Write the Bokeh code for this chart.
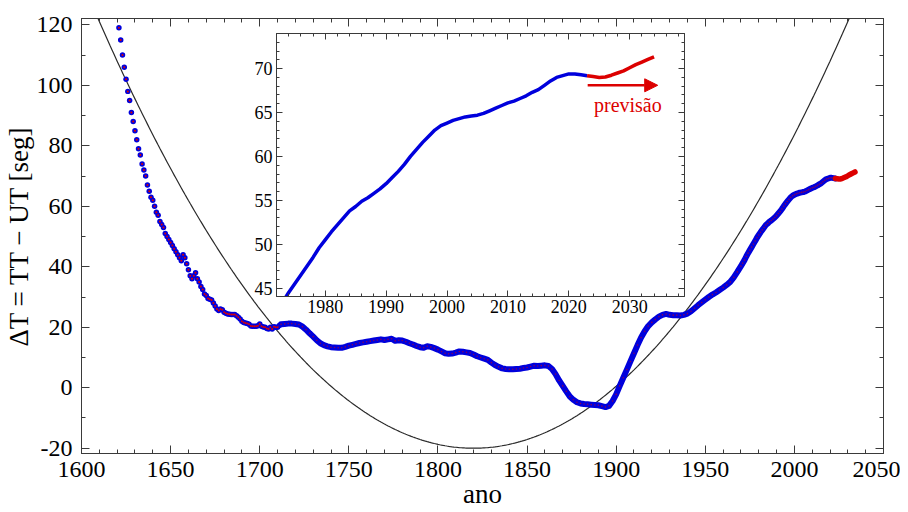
import numpy as np
from bokeh.plotting import figure
from bokeh.models import (Range1d, LinearAxis, SingleIntervalTicker, Arrow, NormalHead,
                          Label, CustomJSTickFormatter)
from bokeh.layouts import column
from bokeh.embed import file_html
from bokeh.resources import INLINE

FONT = "Liberation Serif"
BLUE = "#0000dc"
RED = "#dc0000"
AXC = "#3a3a3a"

# ---------------- data ----------------
early_years = list(range(1620, 1712))
early_dt = [124, 119, 115, 110, 106, 102, 98, 95, 91, 88,
            85, 82, 79, 77, 74, 72, 70, 67, 65, 63,
            62, 60, 58, 57, 55, 54, 53, 51, 50, 49,
            48, 47, 46, 45, 44, 43, 42, 44, 43, 41,
            39, 37, 36, 37, 38, 36, 35, 33.5, 32.5, 31,
            30.5, 29.5, 29.3, 29, 28, 27, 26, 25.5, 26, 25.8,
            25, 24.6, 24.4, 24.3, 24.2, 24.2, 24.2, 23.8, 23.3, 22.7,
            22, 21.6, 21.4, 21.2, 21, 20.4, 20.3, 20.3, 20.3, 20.5,
            21.1, 20.3, 20.1, 20, 19.6, 19.4, 20, 19.4, 20.2, 20,
            20, 20.6]

dense_years = list(range(1712, 1971, 2)) + list(range(1971, 2024))
dense_dt = [21.0, 21.1, 21.2, 21.2, 21.1,
            20.9, 20.2, 19.2, 18.0, 16.9,
            15.7, 14.7, 14.1, 13.7, 13.4,
            13.3, 13.2, 13.2, 13.5, 13.9,
            14.2, 14.5, 14.8, 15.0, 15.2,
            15.4, 15.6, 15.8, 16.0, 15.8,
            16.0, 16.2, 15.5, 15.7, 15.6,
            15.2, 14.7, 14.3, 13.8, 13.4,
            13.2, 13.7, 13.5, 13.1, 12.6,
            12.0, 11.4, 11.2, 11.3, 11.6,
            12.0, 11.9, 11.7, 11.5, 11.0,
            10.4, 10.0, 9.6, 9.2, 8.3,
            7.5, 6.9, 6.4, 6.2, 6.1,
            6.1, 6.2, 6.3, 6.5, 6.7,
            7.0, 7.3, 7.2, 7.3, 7.4,
            7.2, 6.2, 4.5, 2.4, 0.6,
            -1.2, -2.9, -4.0, -4.8, -5.2,
            -5.4, -5.5, -5.6, -5.7, -5.8,
            -6.1, -6.4, -6.0, -4.4, -2.2,
            0.6, 3.3, 6.0, 8.7, 11.4,
            14.1, 16.6, 18.7, 20.4, 21.6,
            22.6, 23.5, 24.1, 24.4, 24.1,
            24.0, 24.0, 23.9, 24.1, 24.5,
            25.3, 26.3, 27.3, 28.2, 29.1,
            30.0, 30.8, 31.5, 32.3, 33.1,
            34.0, 35.0, 36.5, 38.3, 40.2,
            41.2, 42.2, 43.4, 44.5, 45.5, 46.5, 47.5, 48.5, 49.6, 50.5,
            51.4, 52.2, 53.0, 53.8, 54.3, 54.9, 55.3, 55.8, 56.3, 56.9,
            57.6, 58.3, 59.1, 60.0, 60.8, 61.6, 62.3, 63.0, 63.5, 63.8,
            64.1, 64.3, 64.5, 64.6, 64.7, 64.9, 65.2, 65.5, 65.8, 66.1,
            66.3, 66.6, 66.9, 67.3, 67.6, 68.1, 68.6, 69.0, 69.2, 69.4,
            69.4, 69.3, 69.2]

pred_years = list(range(2023, 2035))
pred_dt = [69.2, 69.1, 69.0, 69.05, 69.25, 69.5, 69.75, 70.1, 70.45, 70.75, 71.05, 71.35]

# parabola model: dT = C + A * ((year - T0)/100)^2
PARAB_T0, PARAB_C, PARAB_A = 1820.0, -20.0, 32.0
parab_x = np.linspace(1600, 2050, 451)
parab_y = PARAB_C + PARAB_A * ((parab_x - PARAB_T0) / 100.0) ** 2

# annotation positions (inset data units)
ARROW_X0, ARROW_X1, ARROW_Y = 2023.1, 2034.6, 68.1
TEXT_X, TEXT_Y = 2029.7, 65.9


def style(ax, size, maj, mnr):
    ax.major_tick_in = maj
    ax.major_tick_out = 0
    ax.minor_tick_in = mnr
    ax.minor_tick_out = 0
    ax.axis_line_color = AXC
    ax.major_tick_line_color = AXC
    ax.minor_tick_line_color = AXC
    ax.major_label_text_font = FONT
    ax.major_label_text_font_size = f"{size}px"
    ax.major_label_text_color = "black"
    ax.axis_label_text_font = FONT
    ax.axis_label_text_font_style = "normal"
    ax.axis_label_text_color = "black"


blank = CustomJSTickFormatter(code="return ''")
intfmt = CustomJSTickFormatter(code="return tick.toFixed(0)")

# ---------------- main figure ----------------
W, H = 900, 512
p = figure(width=W, height=H, x_range=Range1d(1600, 2050), y_range=Range1d(-21.75, 122.1),
           output_backend="svg", toolbar_location=None, frame_align=False,
           min_border_left=75, min_border_right=17, min_border_top=18, min_border_bottom=59)
p.grid.visible = False
p.outline_line_color = AXC
p.background_fill_color = "white"

xt = SingleIntervalTicker(interval=50, num_minor_ticks=5)
yt = SingleIntervalTicker(interval=20, num_minor_ticks=2)
p.xaxis.ticker = xt
p.yaxis.ticker = yt
p.yaxis.formatter = intfmt
style(p.xaxis[0], 24, 8, 4)
style(p.yaxis[0], 24, 8, 4)
p.xaxis.axis_label = "ano"
p.xaxis.axis_label_text_font_size = "27px"
p.xaxis.axis_label_standoff = -1
p.xaxis.major_label_standoff = 8
p.yaxis.axis_label = "ΔT = TT − UT [seg]"
p.yaxis.axis_label_text_font_size = "27px"
p.yaxis.axis_label_standoff = 0
p.yaxis.major_label_standoff = 9

for loc, tk in (("right", yt), ("above", xt)):
    ax = LinearAxis(ticker=tk, formatter=blank)
    style(ax, 1, 8, 4)
    ax.major_label_standoff = 0
    p.add_layout(ax, loc)

p.line(parab_x, parab_y, line_color="#2a2a2a", line_width=1.2)
p.scatter(early_years, early_dt, size=5.5, fill_color=BLUE, line_color=None)
p.scatter(early_years, early_dt, size=2, fill_color=RED, line_color=None)
p.line(dense_years, dense_dt, line_color=BLUE, line_width=6, line_join="round", line_cap="round")
p.scatter(dense_years, dense_dt, size=1.6, fill_color=RED, line_color=None, fill_alpha=0.6)
p.line(pred_years, pred_dt, line_color=RED, line_width=5.5, line_join="round", line_cap="round")

# ---------------- inset ----------------
IW, IH = 442, 293
q = figure(width=IW, height=IH, x_range=Range1d(1972, 2039), y_range=Range1d(44.05, 74.0),
           output_backend="svg", toolbar_location=None, frame_align=False,
           min_border_left=30, min_border_right=4, min_border_top=4, min_border_bottom=26)
q.grid.visible = False
q.outline_line_color = AXC
q.background_fill_color = "white"
q.border_fill_alpha = 0
qxt = SingleIntervalTicker(interval=10, num_minor_ticks=5)
qyt = SingleIntervalTicker(interval=5, num_minor_ticks=5)
q.xaxis.ticker = qxt
q.yaxis.ticker = qyt
style(q.xaxis[0], 18, 6, 3)
style(q.yaxis[0], 18, 6, 3)
q.xaxis.major_label_standoff = 3
q.yaxis.major_label_standoff = 4
for loc, tk in (("right", qyt), ("above", qxt)):
    ax = LinearAxis(ticker=tk, formatter=blank)
    style(ax, 1, 6, 3)
    ax.major_label_standoff = 0
    q.add_layout(ax, loc)

q.line(dense_years, dense_dt, line_color=BLUE, line_width=3.5, line_join="round")
q.line(pred_years, pred_dt, line_color=RED, line_width=3.5, line_join="round")
q.add_layout(Arrow(end=NormalHead(size=13, fill_color=RED, line_color=RED),
                   x_start=ARROW_X0, y_start=ARROW_Y, x_end=ARROW_X1, y_end=ARROW_Y,
                   line_color=RED, line_width=2.5))
q.add_layout(Label(x=TEXT_X, y=TEXT_Y, text="previsão", text_font=FONT, text_font_size="20px",
                   text_color=RED, text_align="center", text_baseline="middle"))

q.margin = (29 - H, 0, 0, 246)

layout = column(p, q)
open("out.html", "w").write(file_html(layout, INLINE))
